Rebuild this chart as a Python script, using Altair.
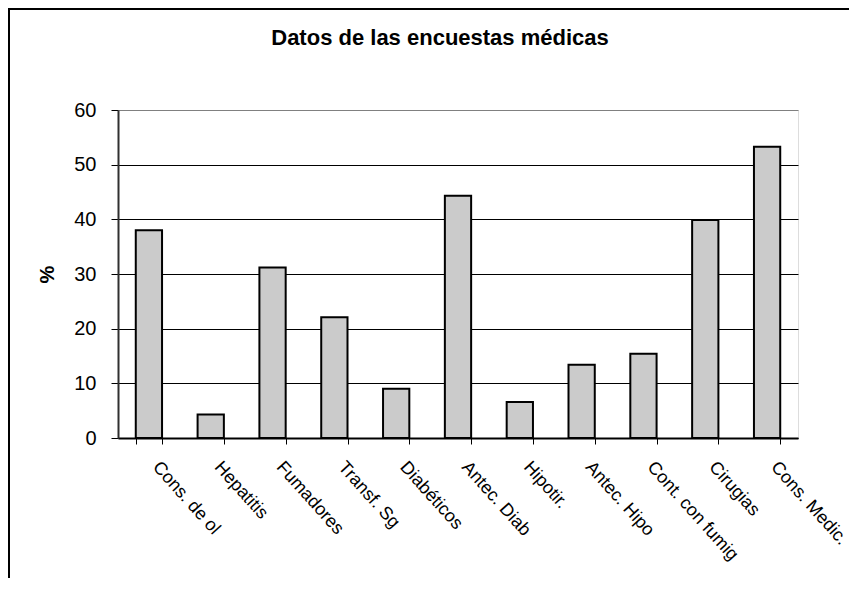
import altair as alt
import pandas as pd

categories = ["Cons. de ol", "Hepatitis", "Fumadores", "Transf. Sg", "Diabéticos",
              "Antec. Diab", "Hipotir.", "Antec. Hipo", "Cont. con fumig", "Cirugias",
              "Cons. Medic."]
values = [38.0, 4.3, 31.2, 22.1, 9.0, 44.3, 6.6, 13.4, 15.4, 39.9, 53.3]
y_ticks = [0, 10, 20, 30, 40, 50, 60]
chart_title = "Datos de las encuestas médicas"

df = pd.DataFrame({"cat": categories, "val": values})
FONT = "Liberation Sans"

bars = alt.Chart(df).mark_bar(
    fill="#CBCBCB", stroke="black", strokeWidth=2
).encode(
    x=alt.X("cat:N", sort=None, title=None,
            scale=alt.Scale(paddingInner=0.575, paddingOuter=0.2875),
            axis=alt.Axis(labelAngle=48, labelAlign="left", labelBaseline="top",
                          labelOffset=13, labelPadding=14, labelFont=FONT,
                          labelFontSize=18, labelColor="black", labelLimit=0,
                          labelOverlap=False, tickBand="extent", tickSize=6,
                          tickColor="black", tickWidth=1, domainColor="black",
                          domainWidth=2, grid=False)),
    y=alt.Y("val:Q", title="%",
            scale=alt.Scale(domain=[0, 60], nice=False, zero=True),
            axis=alt.Axis(values=y_ticks, labelFont=FONT, labelFontSize=20,
                          labelColor="black", labelPadding=15, tickSize=7,
                          tickColor="black", tickWidth=1, domainColor="#303030",
                          domainWidth=2, grid=True,
                          gridColor=alt.condition("datum.value >= 60",
                                                  alt.value("#808080"),
                                                  alt.value("black")),
                          gridWidth=1, titleFont=FONT, titleFontSize=20,
                          titleFontWeight="bold", titleColor="black",
                          titleX=-71, titleY=164, titleAngle=-90,
                          titleAlign="center", titleBaseline="middle")),
)

frame_src = pd.DataFrame({"t": [chart_title]})
title_mark = alt.Chart(frame_src).mark_text(
    font=FONT, fontSize=22, fontWeight="bold", color="black",
    align="center", baseline="alphabetic"
).encode(x=alt.value(322), y=alt.value(-65), text="t:N")

left_rule = alt.Chart(frame_src).mark_rule(color="black", strokeWidth=2).encode(
    x=alt.value(-109), y=alt.value(-102), y2=alt.value(600))
top_rule = alt.Chart(frame_src).mark_rule(color="black", strokeWidth=2).encode(
    x=alt.value(-110), x2=alt.value(731), y=alt.value(-101))

chart = alt.layer(bars, title_mark, left_rule, top_rule).properties(
    width=680, height=328,
    autosize=alt.AutoSizeParams(type="none"),
    padding={"left": 110, "top": 102, "right": 51, "bottom": 140},
).configure_view(
    stroke="#808080", strokeWidth=2
).configure(background="white")

chart.save("out.html", embed_options={"renderer": "svg", "actions": False})
